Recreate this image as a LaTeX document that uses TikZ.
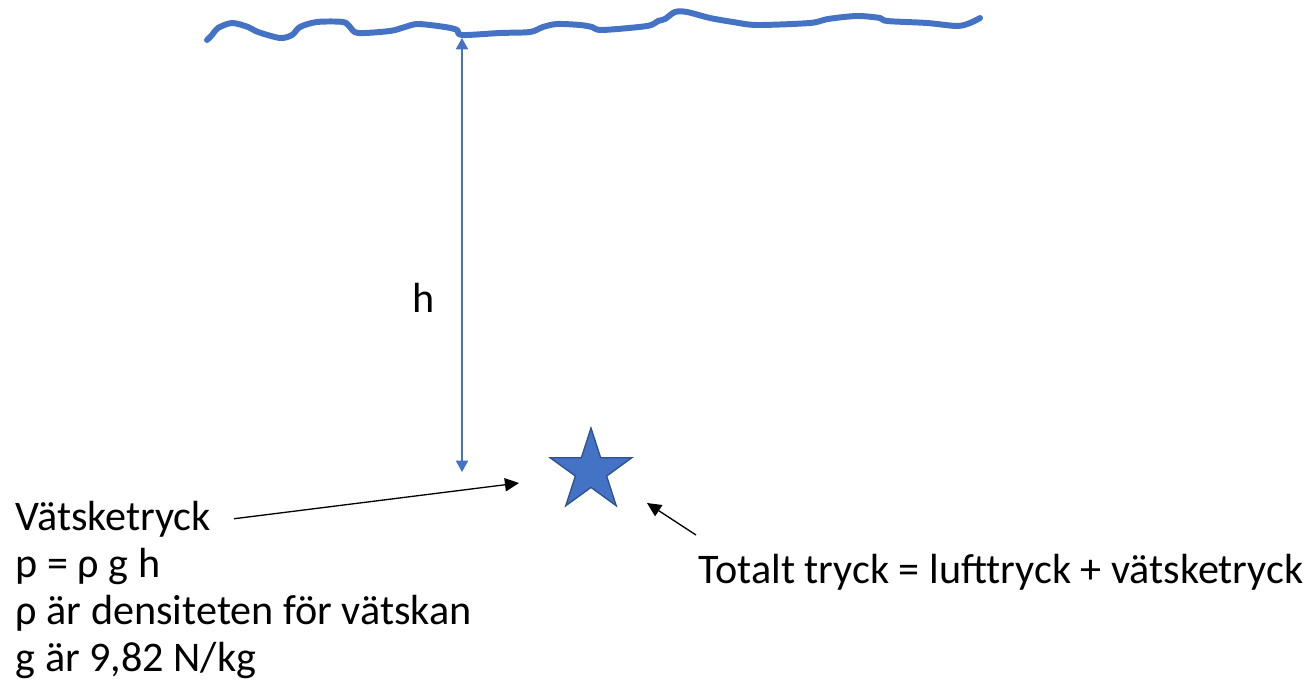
\documentclass[tikz,border=0pt]{standalone}
\usepackage{fontspec}
\setmainfont{Carlito}
\usetikzlibrary{arrows.meta,shapes.geometric}
\definecolor{ytblue}{HTML}{4472C4}
\definecolor{ytedge}{HTML}{2F528F}

\begin{document}
\begin{tikzpicture}[x=0.02cm, y=-0.02cm, line width=0.75pt,
    >={Triangle[length=8pt, width=7.5pt]},
    txt/.style={font=\fontsize{24}{29}\selectfont, inner sep=0pt, anchor=base west},
    bluetip/.style={{Triangle[length=6.5pt, width=7pt]}-{Triangle[length=6.5pt, width=7pt]}, ytblue}]
  \useasboundingbox (0,0) rectangle (1311,692);

  % 1. vätskeytan (frihandslinje)
  \draw[ytblue, line width=3.4pt, line cap=round, line join=round]
    plot[smooth, tension=0.5] coordinates {
      (207,40) (212,35) (218,28) (232,23) (248,27) (258,32) (280,38) (292,35)
      (300,27) (317,22) (343,22) (350,27) (358,33) (390,31) (405,27) (418,24)
      (445,27) (457,30) (462,35) (500,33) (530,32) (543,27) (557,24) (580,25)
      (592,27) (602,30) (647,26) (658,21) (665,19) (675,12) (687,12) (710,18)
      (733,22) (757,25) (810,23) (828,19) (857,16) (880,18) (887,21) (927,23)
      (957,26) (970,23) (980,18)};

  % 2. djupet h
  \coordinate (yta) at (462,38);
  \coordinate (botten) at (462,472);
  \draw[bluetip] (yta) -- (botten);
  \node[txt, anchor=base] (h) at (424,313) {h};

  % 3. punkten i vätskan
  \node[star, star points=5, star point ratio=2.618, minimum size=1.72cm,
        inner sep=0pt, fill=ytblue, draw=ytedge] (punkt) at (591,471) {};

  % 4. texter
  \node[txt] (vtext) at (15,530) {Vätsketryck};
  \node[txt] (formel) at (15,577) {p = ρ g h};
  \node[txt] (rho) at (15,624) {ρ är densiteten för vätskan};
  \node[txt] (gval) at (15,671) {g är 9,82 N/kg};
  \node[txt] (total) at (698,583) {Totalt tryck = lufttryck + vätsketryck};

  % 5. pilar mot punkten
  \coordinate (vtip) at (519,483);
  \coordinate (ttail) at (696,535);
  \coordinate (ttip) at (647,503);
  \draw[->] ([xshift=0.45cm]vtext.east) -- (vtip);
  \draw[->] (ttail) -- (ttip);
\end{tikzpicture}
\end{document}
